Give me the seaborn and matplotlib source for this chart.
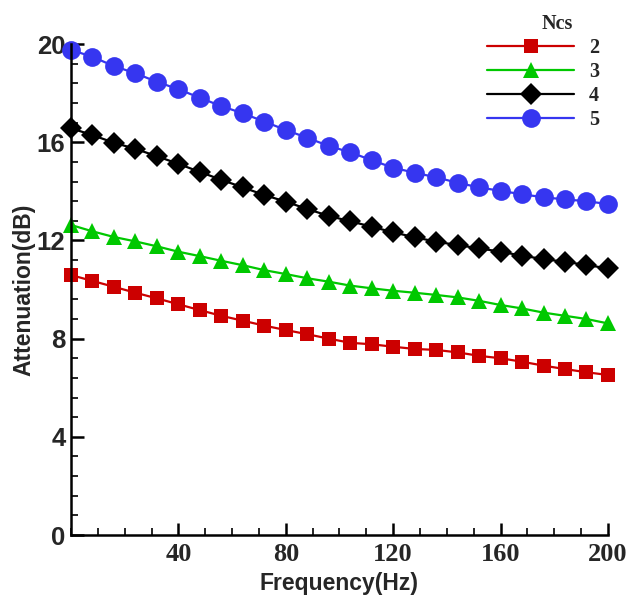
import numpy as np
import pandas as pd
import matplotlib
matplotlib.use("Agg")
import matplotlib.pyplot as plt
import seaborn as sns
from matplotlib.ticker import MultipleLocator

freq = list(range(0, 201, 8))
ncs_2 = [10.59, 10.35, 10.11, 9.87, 9.64, 9.40, 9.16, 8.93, 8.73, 8.53, 8.35, 8.18, 8.00,
         7.83, 7.77, 7.67, 7.58, 7.54, 7.44, 7.30, 7.20, 7.06, 6.90, 6.76, 6.63, 6.52]
ncs_3 = [12.63, 12.37, 12.14, 11.96, 11.76, 11.54, 11.36, 11.17, 10.99, 10.79, 10.63, 10.46, 10.32,
         10.16, 10.05, 9.95, 9.87, 9.78, 9.68, 9.54, 9.37, 9.23, 9.06, 8.93, 8.80, 8.62]
ncs_4 = [16.57, 16.29, 15.98, 15.73, 15.43, 15.12, 14.79, 14.47, 14.16, 13.85, 13.58, 13.28, 13.00,
         12.78, 12.56, 12.33, 12.13, 11.95, 11.81, 11.68, 11.54, 11.38, 11.24, 11.13, 11.00, 10.86]
ncs_5 = [19.76, 19.48, 19.10, 18.81, 18.46, 18.16, 17.81, 17.47, 17.18, 16.84, 16.50, 16.18, 15.85,
         15.59, 15.27, 14.96, 14.76, 14.57, 14.35, 14.16, 14.02, 13.88, 13.76, 13.67, 13.60, 13.48]
labels = ["2", "3", "4", "5"]
x_ticks = [40, 80, 120, 160, 200]
y_ticks = [0, 4, 8, 12, 16, 20]

sns.set_theme(style="white")
plt.rcParams['font.family'] = ['Liberation Sans', 'DejaVu Sans']

fig = plt.figure(figsize=(6.3, 5.96), dpi=100)
ax = fig.add_axes([0.1127, 0.1023, 0.8523, 0.8238])

styles = [
    ("#cc0000", "s", 10),
    ("#00c800", "^", 11.5),
    ("#000000", "D", 11),
    ("#3636f0", "o", 13.5),
]
series = [ncs_2, ncs_3, ncs_4, ncs_5]
for lab, vals, (col, mk, ms) in zip(labels, series, styles):
    df = pd.DataFrame({"Frequency": freq, "Attenuation": vals})
    sns.lineplot(data=df, x="Frequency", y="Attenuation", ax=ax, color=col,
                 marker=mk, markersize=ms, markeredgewidth=0, linewidth=1.6,
                 label=lab, clip_on=False)

ax.set_xlim(0, 200)
ax.set_ylim(0, 20)
ax.set_xticks(x_ticks)
ax.set_yticks(y_ticks)
ax.xaxis.set_minor_locator(MultipleLocator(10))
ax.yaxis.set_minor_locator(MultipleLocator(0.8))
ax.tick_params(which="major", direction="in", length=9, width=1.8, color="black")
ax.tick_params(which="minor", direction="in", length=5, width=1.2, color="black")
ax.tick_params(axis="x", which="both", bottom=True, top=False)
ax.tick_params(axis="y", which="both", left=True, right=False)
for lbl in ax.get_xticklabels():
    lbl.set_fontfamily(['Liberation Serif', 'DejaVu Serif'])
    lbl.set_fontweight("bold")
    lbl.set_fontsize(19)
for lbl in ax.get_yticklabels():
    lbl.set_fontweight("bold")
    lbl.set_fontsize(18.5)
ax.tick_params(axis="x", pad=6)
ax.tick_params(axis="y", pad=4)

for s in ["top", "right"]:
    ax.spines[s].set_visible(False)
for s in ["left", "bottom"]:
    ax.spines[s].set_color("black")
    ax.spines[s].set_linewidth(1.8)

ax.set_xlabel("Frequency(Hz)", fontsize=16.5, fontweight="bold", labelpad=4)
ax.set_ylabel("Attenuation(dB)", fontsize=16.5, fontweight="bold", labelpad=1)

leg = ax.legend(title="Ncs", loc="upper left", bbox_to_anchor=(0.745, 1.007),
                bbox_transform=fig.transFigure, frameon=False, handlelength=4.3,
                labelspacing=0.2, handletextpad=0.75,
                prop={"family": ['Liberation Serif', 'DejaVu Serif'], "weight": "bold", "size": 14.5},
                title_fontproperties={"family": ['Liberation Serif', 'DejaVu Serif'], "weight": "bold", "size": 14.5})
leg._legend_box.align = "center"
leg.get_title().set_position((14, 0))

fig.savefig("out.png", dpi=100)
